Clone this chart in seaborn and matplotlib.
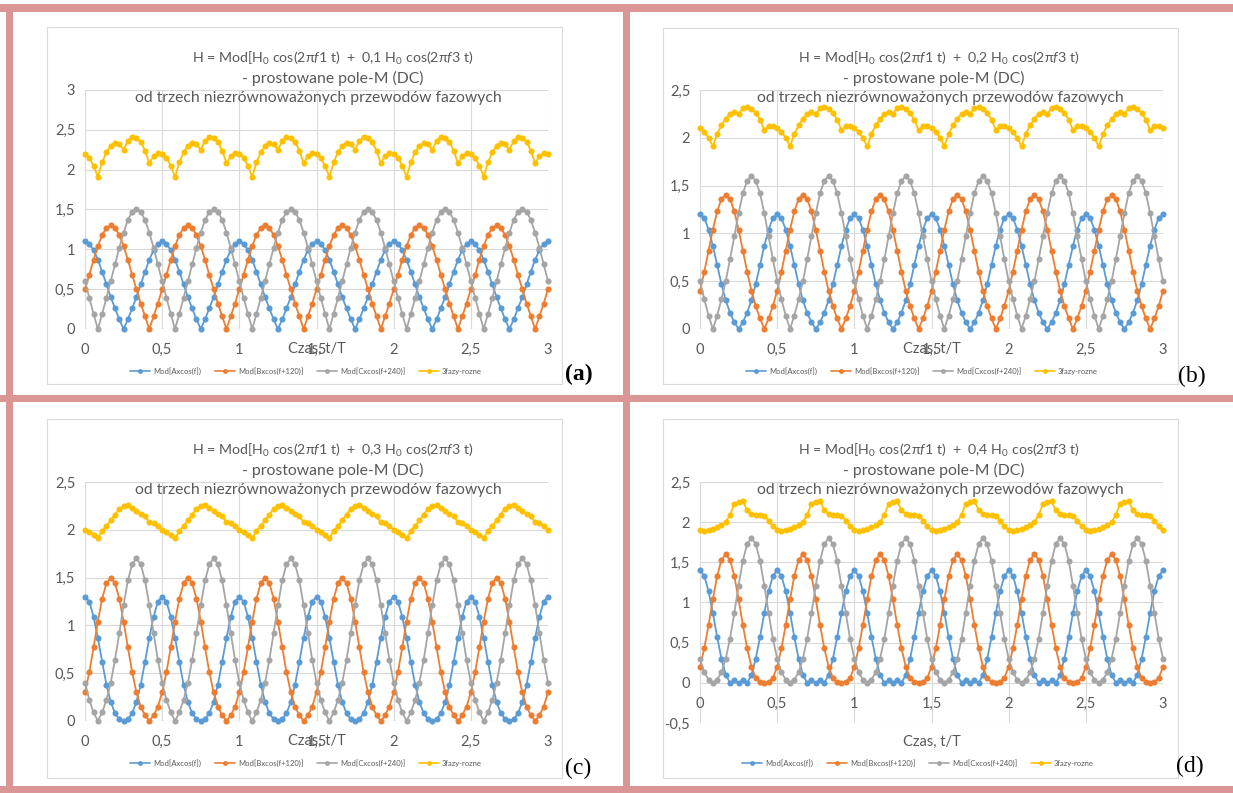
import numpy as np
import pandas as pd
import matplotlib
matplotlib.use("Agg")
import matplotlib.pyplot as plt
from matplotlib.lines import Line2D
from matplotlib.patches import Rectangle
from matplotlib.ticker import FuncFormatter, MultipleLocator
import seaborn as sns

# czas t/T, krok 1/36 (10 stopni)
czas = np.linspace(0, 3, 109)

nazwy = ["Mod[Axcos(f])", "Mod[Bxcos(f+120)]", "Mod[Cxcos(f+240)]", "3fazy-rozne"]
kolory = ["#5B9BD5", "#ED7D31", "#A5A5A5", "#FFC000"]

# (a) 0,1 H0
a_A = [1.1, 1.07, 0.99, 0.87, 0.72, 0.56, 0.4, 0.26, 0.12, 0.0, 0.12, 0.26, 0.4, 0.56, 0.72, 0.87, 0.99, 1.07,
       1.1, 1.07, 0.99, 0.87, 0.72, 0.56, 0.4, 0.26, 0.12, 0.0, 0.12, 0.26, 0.4, 0.56, 0.72, 0.87, 0.99, 1.07,
       1.1, 1.07, 0.99, 0.87, 0.72, 0.56, 0.4, 0.26, 0.12, 0.0, 0.12, 0.26, 0.4, 0.56, 0.72, 0.87, 0.99, 1.07,
       1.1, 1.07, 0.99, 0.87, 0.72, 0.56, 0.4, 0.26, 0.12, 0.0, 0.12, 0.26, 0.4, 0.56, 0.72, 0.87, 0.99, 1.07,
       1.1, 1.07, 0.99, 0.87, 0.72, 0.56, 0.4, 0.26, 0.12, 0.0, 0.12, 0.26, 0.4, 0.56, 0.72, 0.87, 0.99, 1.07,
       1.1, 1.07, 0.99, 0.87, 0.72, 0.56, 0.4, 0.26, 0.12, 0.0, 0.12, 0.26, 0.4, 0.56, 0.72, 0.87, 0.99, 1.07,
       1.1]
a_B = [0.5, 0.68, 0.87, 1.04, 1.18, 1.27, 1.3, 1.27, 1.18, 1.04, 0.87, 0.68, 0.5, 0.32, 0.16, 0.0, 0.16, 0.32,
       0.5, 0.68, 0.87, 1.04, 1.18, 1.27, 1.3, 1.27, 1.18, 1.04, 0.87, 0.68, 0.5, 0.32, 0.16, 0.0, 0.16, 0.32,
       0.5, 0.68, 0.87, 1.04, 1.18, 1.27, 1.3, 1.27, 1.18, 1.04, 0.87, 0.68, 0.5, 0.32, 0.16, 0.0, 0.16, 0.32,
       0.5, 0.68, 0.87, 1.04, 1.18, 1.27, 1.3, 1.27, 1.18, 1.04, 0.87, 0.68, 0.5, 0.32, 0.16, 0.0, 0.16, 0.32,
       0.5, 0.68, 0.87, 1.04, 1.18, 1.27, 1.3, 1.27, 1.18, 1.04, 0.87, 0.68, 0.5, 0.32, 0.16, 0.0, 0.16, 0.32,
       0.5, 0.68, 0.87, 1.04, 1.18, 1.27, 1.3, 1.27, 1.18, 1.04, 0.87, 0.68, 0.5, 0.32, 0.16, 0.0, 0.16, 0.32,
       0.5]
a_C = [0.6, 0.39, 0.19, 0.0, 0.19, 0.39, 0.6, 0.81, 1.02, 1.21, 1.37, 1.47, 1.5, 1.47, 1.37, 1.21, 1.02, 0.81,
       0.6, 0.39, 0.19, 0.0, 0.19, 0.39, 0.6, 0.81, 1.02, 1.21, 1.37, 1.47, 1.5, 1.47, 1.37, 1.21, 1.02, 0.81,
       0.6, 0.39, 0.19, 0.0, 0.19, 0.39, 0.6, 0.81, 1.02, 1.21, 1.37, 1.47, 1.5, 1.47, 1.37, 1.21, 1.02, 0.81,
       0.6, 0.39, 0.19, 0.0, 0.19, 0.39, 0.6, 0.81, 1.02, 1.21, 1.37, 1.47, 1.5, 1.47, 1.37, 1.21, 1.02, 0.81,
       0.6, 0.39, 0.19, 0.0, 0.19, 0.39, 0.6, 0.81, 1.02, 1.21, 1.37, 1.47, 1.5, 1.47, 1.37, 1.21, 1.02, 0.81,
       0.6, 0.39, 0.19, 0.0, 0.19, 0.39, 0.6, 0.81, 1.02, 1.21, 1.37, 1.47, 1.5, 1.47, 1.37, 1.21, 1.02, 0.81,
       0.6]
a_S = [2.2, 2.15, 2.05, 1.91, 2.09, 2.22, 2.3, 2.34, 2.32, 2.25, 2.36, 2.41, 2.4, 2.35, 2.24, 2.08, 2.17, 2.21,
       2.2, 2.15, 2.05, 1.91, 2.09, 2.22, 2.3, 2.34, 2.32, 2.25, 2.36, 2.41, 2.4, 2.35, 2.24, 2.08, 2.17, 2.21,
       2.2, 2.15, 2.05, 1.91, 2.09, 2.22, 2.3, 2.34, 2.32, 2.25, 2.36, 2.41, 2.4, 2.35, 2.24, 2.08, 2.17, 2.21,
       2.2, 2.15, 2.05, 1.91, 2.09, 2.22, 2.3, 2.34, 2.32, 2.25, 2.36, 2.41, 2.4, 2.35, 2.24, 2.08, 2.17, 2.21,
       2.2, 2.15, 2.05, 1.91, 2.09, 2.22, 2.3, 2.34, 2.32, 2.25, 2.36, 2.41, 2.4, 2.35, 2.24, 2.08, 2.17, 2.21,
       2.2, 2.15, 2.05, 1.91, 2.09, 2.22, 2.3, 2.34, 2.32, 2.25, 2.36, 2.41, 2.4, 2.35, 2.24, 2.08, 2.17, 2.21,
       2.2]

# (b) 0,2 H0
b_A = [1.2, 1.16, 1.04, 0.87, 0.67, 0.47, 0.3, 0.17, 0.07, 0.0, 0.07, 0.17, 0.3, 0.47, 0.67, 0.87, 1.04, 1.16,
       1.2, 1.16, 1.04, 0.87, 0.67, 0.47, 0.3, 0.17, 0.07, 0.0, 0.07, 0.17, 0.3, 0.47, 0.67, 0.87, 1.04, 1.16,
       1.2, 1.16, 1.04, 0.87, 0.67, 0.47, 0.3, 0.17, 0.07, 0.0, 0.07, 0.17, 0.3, 0.47, 0.67, 0.87, 1.04, 1.16,
       1.2, 1.16, 1.04, 0.87, 0.67, 0.47, 0.3, 0.17, 0.07, 0.0, 0.07, 0.17, 0.3, 0.47, 0.67, 0.87, 1.04, 1.16,
       1.2, 1.16, 1.04, 0.87, 0.67, 0.47, 0.3, 0.17, 0.07, 0.0, 0.07, 0.17, 0.3, 0.47, 0.67, 0.87, 1.04, 1.16,
       1.2, 1.16, 1.04, 0.87, 0.67, 0.47, 0.3, 0.17, 0.07, 0.0, 0.07, 0.17, 0.3, 0.47, 0.67, 0.87, 1.04, 1.16,
       1.2]
b_B = [0.4, 0.6, 0.82, 1.04, 1.23, 1.36, 1.4, 1.36, 1.23, 1.04, 0.82, 0.6, 0.4, 0.24, 0.11, 0.0, 0.11, 0.24,
       0.4, 0.6, 0.82, 1.04, 1.23, 1.36, 1.4, 1.36, 1.23, 1.04, 0.82, 0.6, 0.4, 0.24, 0.11, 0.0, 0.11, 0.24,
       0.4, 0.6, 0.82, 1.04, 1.23, 1.36, 1.4, 1.36, 1.23, 1.04, 0.82, 0.6, 0.4, 0.24, 0.11, 0.0, 0.11, 0.24,
       0.4, 0.6, 0.82, 1.04, 1.23, 1.36, 1.4, 1.36, 1.23, 1.04, 0.82, 0.6, 0.4, 0.24, 0.11, 0.0, 0.11, 0.24,
       0.4, 0.6, 0.82, 1.04, 1.23, 1.36, 1.4, 1.36, 1.23, 1.04, 0.82, 0.6, 0.4, 0.24, 0.11, 0.0, 0.11, 0.24,
       0.4, 0.6, 0.82, 1.04, 1.23, 1.36, 1.4, 1.36, 1.23, 1.04, 0.82, 0.6, 0.4, 0.24, 0.11, 0.0, 0.11, 0.24,
       0.4]
b_C = [0.5, 0.31, 0.14, 0.0, 0.14, 0.31, 0.5, 0.73, 0.97, 1.21, 1.42, 1.55, 1.6, 1.55, 1.42, 1.21, 0.97, 0.73,
       0.5, 0.31, 0.14, 0.0, 0.14, 0.31, 0.5, 0.73, 0.97, 1.21, 1.42, 1.55, 1.6, 1.55, 1.42, 1.21, 0.97, 0.73,
       0.5, 0.31, 0.14, 0.0, 0.14, 0.31, 0.5, 0.73, 0.97, 1.21, 1.42, 1.55, 1.6, 1.55, 1.42, 1.21, 0.97, 0.73,
       0.5, 0.31, 0.14, 0.0, 0.14, 0.31, 0.5, 0.73, 0.97, 1.21, 1.42, 1.55, 1.6, 1.55, 1.42, 1.21, 0.97, 0.73,
       0.5, 0.31, 0.14, 0.0, 0.14, 0.31, 0.5, 0.73, 0.97, 1.21, 1.42, 1.55, 1.6, 1.55, 1.42, 1.21, 0.97, 0.73,
       0.5, 0.31, 0.14, 0.0, 0.14, 0.31, 0.5, 0.73, 0.97, 1.21, 1.42, 1.55, 1.6, 1.55, 1.42, 1.21, 0.97, 0.73,
       0.5]
b_S = [2.1, 2.06, 2.0, 1.91, 2.04, 2.13, 2.2, 2.25, 2.27, 2.25, 2.31, 2.32, 2.3, 2.26, 2.19, 2.08, 2.12, 2.12,
       2.1, 2.06, 2.0, 1.91, 2.04, 2.13, 2.2, 2.25, 2.27, 2.25, 2.31, 2.32, 2.3, 2.26, 2.19, 2.08, 2.12, 2.12,
       2.1, 2.06, 2.0, 1.91, 2.04, 2.13, 2.2, 2.25, 2.27, 2.25, 2.31, 2.32, 2.3, 2.26, 2.19, 2.08, 2.12, 2.12,
       2.1, 2.06, 2.0, 1.91, 2.04, 2.13, 2.2, 2.25, 2.27, 2.25, 2.31, 2.32, 2.3, 2.26, 2.19, 2.08, 2.12, 2.12,
       2.1, 2.06, 2.0, 1.91, 2.04, 2.13, 2.2, 2.25, 2.27, 2.25, 2.31, 2.32, 2.3, 2.26, 2.19, 2.08, 2.12, 2.12,
       2.1, 2.06, 2.0, 1.91, 2.04, 2.13, 2.2, 2.25, 2.27, 2.25, 2.31, 2.32, 2.3, 2.26, 2.19, 2.08, 2.12, 2.12,
       2.1]

# (c) 0,3 H0
c_A = [1.3, 1.25, 1.09, 0.87, 0.62, 0.38, 0.2, 0.08, 0.02, 0.0, 0.02, 0.08, 0.2, 0.38, 0.62, 0.87, 1.09, 1.25,
       1.3, 1.25, 1.09, 0.87, 0.62, 0.38, 0.2, 0.08, 0.02, 0.0, 0.02, 0.08, 0.2, 0.38, 0.62, 0.87, 1.09, 1.25,
       1.3, 1.25, 1.09, 0.87, 0.62, 0.38, 0.2, 0.08, 0.02, 0.0, 0.02, 0.08, 0.2, 0.38, 0.62, 0.87, 1.09, 1.25,
       1.3, 1.25, 1.09, 0.87, 0.62, 0.38, 0.2, 0.08, 0.02, 0.0, 0.02, 0.08, 0.2, 0.38, 0.62, 0.87, 1.09, 1.25,
       1.3, 1.25, 1.09, 0.87, 0.62, 0.38, 0.2, 0.08, 0.02, 0.0, 0.02, 0.08, 0.2, 0.38, 0.62, 0.87, 1.09, 1.25,
       1.3, 1.25, 1.09, 0.87, 0.62, 0.38, 0.2, 0.08, 0.02, 0.0, 0.02, 0.08, 0.2, 0.38, 0.62, 0.87, 1.09, 1.25,
       1.3]
c_B = [0.3, 0.51, 0.77, 1.04, 1.28, 1.44, 1.5, 1.44, 1.28, 1.04, 0.77, 0.51, 0.3, 0.15, 0.06, 0.0, 0.06, 0.15,
       0.3, 0.51, 0.77, 1.04, 1.28, 1.44, 1.5, 1.44, 1.28, 1.04, 0.77, 0.51, 0.3, 0.15, 0.06, 0.0, 0.06, 0.15,
       0.3, 0.51, 0.77, 1.04, 1.28, 1.44, 1.5, 1.44, 1.28, 1.04, 0.77, 0.51, 0.3, 0.15, 0.06, 0.0, 0.06, 0.15,
       0.3, 0.51, 0.77, 1.04, 1.28, 1.44, 1.5, 1.44, 1.28, 1.04, 0.77, 0.51, 0.3, 0.15, 0.06, 0.0, 0.06, 0.15,
       0.3, 0.51, 0.77, 1.04, 1.28, 1.44, 1.5, 1.44, 1.28, 1.04, 0.77, 0.51, 0.3, 0.15, 0.06, 0.0, 0.06, 0.15,
       0.3, 0.51, 0.77, 1.04, 1.28, 1.44, 1.5, 1.44, 1.28, 1.04, 0.77, 0.51, 0.3, 0.15, 0.06, 0.0, 0.06, 0.15,
       0.3]
c_C = [0.4, 0.22, 0.09, 0.0, 0.09, 0.22, 0.4, 0.64, 0.92, 1.21, 1.47, 1.64, 1.7, 1.64, 1.47, 1.21, 0.92, 0.64,
       0.4, 0.22, 0.09, 0.0, 0.09, 0.22, 0.4, 0.64, 0.92, 1.21, 1.47, 1.64, 1.7, 1.64, 1.47, 1.21, 0.92, 0.64,
       0.4, 0.22, 0.09, 0.0, 0.09, 0.22, 0.4, 0.64, 0.92, 1.21, 1.47, 1.64, 1.7, 1.64, 1.47, 1.21, 0.92, 0.64,
       0.4, 0.22, 0.09, 0.0, 0.09, 0.22, 0.4, 0.64, 0.92, 1.21, 1.47, 1.64, 1.7, 1.64, 1.47, 1.21, 0.92, 0.64,
       0.4, 0.22, 0.09, 0.0, 0.09, 0.22, 0.4, 0.64, 0.92, 1.21, 1.47, 1.64, 1.7, 1.64, 1.47, 1.21, 0.92, 0.64,
       0.4, 0.22, 0.09, 0.0, 0.09, 0.22, 0.4, 0.64, 0.92, 1.21, 1.47, 1.64, 1.7, 1.64, 1.47, 1.21, 0.92, 0.64,
       0.4]
c_S = [2.0, 1.98, 1.95, 1.91, 1.99, 2.04, 2.1, 2.16, 2.22, 2.25, 2.26, 2.23, 2.2, 2.17, 2.14, 2.08, 2.07, 2.04,
       2.0, 1.98, 1.95, 1.91, 1.99, 2.04, 2.1, 2.16, 2.22, 2.25, 2.26, 2.23, 2.2, 2.17, 2.14, 2.08, 2.07, 2.04,
       2.0, 1.98, 1.95, 1.91, 1.99, 2.04, 2.1, 2.16, 2.22, 2.25, 2.26, 2.23, 2.2, 2.17, 2.14, 2.08, 2.07, 2.04,
       2.0, 1.98, 1.95, 1.91, 1.99, 2.04, 2.1, 2.16, 2.22, 2.25, 2.26, 2.23, 2.2, 2.17, 2.14, 2.08, 2.07, 2.04,
       2.0, 1.98, 1.95, 1.91, 1.99, 2.04, 2.1, 2.16, 2.22, 2.25, 2.26, 2.23, 2.2, 2.17, 2.14, 2.08, 2.07, 2.04,
       2.0, 1.98, 1.95, 1.91, 1.99, 2.04, 2.1, 2.16, 2.22, 2.25, 2.26, 2.23, 2.2, 2.17, 2.14, 2.08, 2.07, 2.04,
       2.0]

# (d) 0,4 H0
d_A = [1.4, 1.33, 1.14, 0.87, 0.57, 0.3, 0.1, 0.0, 0.03, 0.0, 0.03, 0.0, 0.1, 0.3, 0.57, 0.87, 1.14, 1.33,
       1.4, 1.33, 1.14, 0.87, 0.57, 0.3, 0.1, 0.0, 0.03, 0.0, 0.03, 0.0, 0.1, 0.3, 0.57, 0.87, 1.14, 1.33,
       1.4, 1.33, 1.14, 0.87, 0.57, 0.3, 0.1, 0.0, 0.03, 0.0, 0.03, 0.0, 0.1, 0.3, 0.57, 0.87, 1.14, 1.33,
       1.4, 1.33, 1.14, 0.87, 0.57, 0.3, 0.1, 0.0, 0.03, 0.0, 0.03, 0.0, 0.1, 0.3, 0.57, 0.87, 1.14, 1.33,
       1.4, 1.33, 1.14, 0.87, 0.57, 0.3, 0.1, 0.0, 0.03, 0.0, 0.03, 0.0, 0.1, 0.3, 0.57, 0.87, 1.14, 1.33,
       1.4, 1.33, 1.14, 0.87, 0.57, 0.3, 0.1, 0.0, 0.03, 0.0, 0.03, 0.0, 0.1, 0.3, 0.57, 0.87, 1.14, 1.33,
       1.4]
d_B = [0.2, 0.43, 0.72, 1.04, 1.33, 1.53, 1.6, 1.53, 1.33, 1.04, 0.72, 0.43, 0.2, 0.06, 0.01, 0.0, 0.01, 0.06,
       0.2, 0.43, 0.72, 1.04, 1.33, 1.53, 1.6, 1.53, 1.33, 1.04, 0.72, 0.43, 0.2, 0.06, 0.01, 0.0, 0.01, 0.06,
       0.2, 0.43, 0.72, 1.04, 1.33, 1.53, 1.6, 1.53, 1.33, 1.04, 0.72, 0.43, 0.2, 0.06, 0.01, 0.0, 0.01, 0.06,
       0.2, 0.43, 0.72, 1.04, 1.33, 1.53, 1.6, 1.53, 1.33, 1.04, 0.72, 0.43, 0.2, 0.06, 0.01, 0.0, 0.01, 0.06,
       0.2, 0.43, 0.72, 1.04, 1.33, 1.53, 1.6, 1.53, 1.33, 1.04, 0.72, 0.43, 0.2, 0.06, 0.01, 0.0, 0.01, 0.06,
       0.2, 0.43, 0.72, 1.04, 1.33, 1.53, 1.6, 1.53, 1.33, 1.04, 0.72, 0.43, 0.2, 0.06, 0.01, 0.0, 0.01, 0.06,
       0.2]
d_C = [0.3, 0.13, 0.04, 0.0, 0.04, 0.13, 0.3, 0.55, 0.87, 1.21, 1.52, 1.73, 1.8, 1.73, 1.52, 1.21, 0.87, 0.55,
       0.3, 0.13, 0.04, 0.0, 0.04, 0.13, 0.3, 0.55, 0.87, 1.21, 1.52, 1.73, 1.8, 1.73, 1.52, 1.21, 0.87, 0.55,
       0.3, 0.13, 0.04, 0.0, 0.04, 0.13, 0.3, 0.55, 0.87, 1.21, 1.52, 1.73, 1.8, 1.73, 1.52, 1.21, 0.87, 0.55,
       0.3, 0.13, 0.04, 0.0, 0.04, 0.13, 0.3, 0.55, 0.87, 1.21, 1.52, 1.73, 1.8, 1.73, 1.52, 1.21, 0.87, 0.55,
       0.3, 0.13, 0.04, 0.0, 0.04, 0.13, 0.3, 0.55, 0.87, 1.21, 1.52, 1.73, 1.8, 1.73, 1.52, 1.21, 0.87, 0.55,
       0.3, 0.13, 0.04, 0.0, 0.04, 0.13, 0.3, 0.55, 0.87, 1.21, 1.52, 1.73, 1.8, 1.73, 1.52, 1.21, 0.87, 0.55,
       0.3]
d_S = [1.9, 1.89, 1.9, 1.91, 1.94, 1.96, 2.0, 2.09, 2.23, 2.25, 2.26, 2.15, 2.1, 2.09, 2.09, 2.08, 2.02, 1.95,
       1.9, 1.89, 1.9, 1.91, 1.94, 1.96, 2.0, 2.09, 2.23, 2.25, 2.26, 2.15, 2.1, 2.09, 2.09, 2.08, 2.02, 1.95,
       1.9, 1.89, 1.9, 1.91, 1.94, 1.96, 2.0, 2.09, 2.23, 2.25, 2.26, 2.15, 2.1, 2.09, 2.09, 2.08, 2.02, 1.95,
       1.9, 1.89, 1.9, 1.91, 1.94, 1.96, 2.0, 2.09, 2.23, 2.25, 2.26, 2.15, 2.1, 2.09, 2.09, 2.08, 2.02, 1.95,
       1.9, 1.89, 1.9, 1.91, 1.94, 1.96, 2.0, 2.09, 2.23, 2.25, 2.26, 2.15, 2.1, 2.09, 2.09, 2.08, 2.02, 1.95,
       1.9, 1.89, 1.9, 1.91, 1.94, 1.96, 2.0, 2.09, 2.23, 2.25, 2.26, 2.15, 2.1, 2.09, 2.09, 2.08, 2.02, 1.95,
       1.9]

wspolczynniki = ["0,1", "0,2", "0,3", "0,4"]
litery = ["(a)", "(b)", "(c)", "(d)"]

sns.set_theme(style="white")
plt.rcParams["font.family"] = ["Lato", "DejaVu Sans"]
plt.rcParams["mathtext.fontset"] = "custom"
plt.rcParams["mathtext.rm"] = "Lato"
plt.rcParams["mathtext.it"] = "Lato:italic"
szary = "#595959"
siatka = "#D9D9D9"
rozowy = "#D99694"

W, H = 1233, 793
fig = plt.figure(figsize=(W / 100, H / 100), dpi=100)
fig.patch.set_facecolor("white")


def px(x0, y0, x1, y1):
    return [x0 / W, 1 - y1 / H, (x1 - x0) / W, (y1 - y0) / H]


def prost(x0, y0, x1, y1, **kw):
    r = Rectangle((x0 / W, 1 - y1 / H), (x1 - x0) / W, (y1 - y0) / H,
                  transform=fig.transFigure, **kw)
    fig.add_artist(r)


# ramki (rozowe)
for r in [(0, 4, W, 12), (6, 4, 13, H), (623, 4, 630, H), (0, 395, W, 402), (0, 786, W, H)]:
    prost(*r, facecolor=rozowy, edgecolor="none", zorder=0)

# uklad paneli w pikselach
panele = [
    dict(dane=(a_A, a_B, a_C, a_S), dy=0, osY=(85, 90, 548, 329), ylim=(0, 3),
         ramka=(47, 27, 562, 384), tyt=(333, 333, 318), leg=(306, 371), lit=(579, 374), bold=True, dol=None),
    dict(dane=(b_A, b_B, b_C, b_S), dy=0, osY=(700, 90, 1163, 329), ylim=(0, 2.5),
         ramka=(663, 28, 1178, 384), tyt=(939, 934, 940), leg=(922, 371), lit=(1192, 376), bold=False, dol=None),
    dict(dane=(c_A, c_B, c_C, c_S), dy=392, osY=(85, 482, 548, 721), ylim=(0, 2.5),
         ramka=(47, 419, 562, 778), tyt=(333, 333, 318), leg=(306, 763), lit=(578, 768), bold=False, dol=None),
    dict(dane=(d_A, d_B, d_C, d_S), dy=392, osY=(700, 482, 1163, 723), ylim=(-0.5, 2.5),
         ramka=(663, 419, 1178, 778), tyt=(939, 934, 940), leg=(918, 763), lit=(1190, 766), bold=False, dol=742),
]

fmt = FuncFormatter(lambda v, p: f"{v:g}".replace(".", ","))

for i, p in enumerate(panele):
    prost(*p["ramka"], facecolor="none", edgecolor=siatka, linewidth=0.8, zorder=1)

    x0, y0, x1, y1 = p["osY"]
    ax = fig.add_axes(px(x0, y0, x1, y1))
    ax.set_facecolor("none")

    df = pd.concat([pd.DataFrame({"t": czas, "H": s, "seria": n})
                    for s, n in zip(p["dane"], nazwy)])
    sns.lineplot(data=df, x="t", y="H", hue="seria", hue_order=nazwy, palette=kolory,
                 marker="o", markersize=4.4, markeredgewidth=0, linewidth=1.3,
                 estimator=None, sort=False, legend=False, ax=ax)
    for ln in ax.lines:
        ln.set_clip_on(False)

    ax.set_xlim(0, 3)
    ax.set_ylim(*p["ylim"])
    ax.xaxis.set_major_locator(MultipleLocator(0.5))
    ax.yaxis.set_major_locator(MultipleLocator(0.5))
    ax.xaxis.set_major_formatter(fmt)
    ax.yaxis.set_major_formatter(fmt)
    ax.grid(True, color=siatka, linewidth=0.8)
    ax.set_axisbelow(True)
    for sp in ax.spines.values():
        sp.set_visible(False)
    if p["ylim"][0] < 0:
        ax.spines["bottom"].set_position(("data", 0))
    ax.tick_params(axis="both", length=0, labelsize=10.5, labelcolor=szary)
    ax.tick_params(axis="x", pad=10)
    ax.tick_params(axis="y", pad=7)

    # opis osi X - w oryginale nachodzi na "1,5"
    ax.set_xlabel("Czas, t/T", fontsize=10.5, color=szary)
    ax.set_ylabel("")
    hpx = y1 - y0
    if p["dol"] is None:
        ax.xaxis.set_label_coords(0.5, -20 / hpx)
    else:
        ax.xaxis.set_label_coords(0.5, -(p["dol"] - y1) / hpx)
    ax.xaxis.label.set_va("center")

    # tytul w trzech liniach
    ty = 58 + p["dy"]
    l1 = (r"H = Mod[H$_0$ cos(2π$\mathit{f1}$ t)  +  " + wspolczynniki[i]
          + r" H$_0$ cos(2π$\mathit{f3}$ t)")
    fig.text(p["tyt"][0] / W, 1 - ty / H, l1, ha="center", va="center", fontsize=10.2, color=szary)
    fig.text(p["tyt"][1] / W, 1 - (ty + 20) / H, "- prostowane pole-M (DC)",
             ha="center", va="center", fontsize=11.3, color=szary)
    fig.text(p["tyt"][2] / W, 1 - (ty + 40) / H, "od trzech niezrównoważonych przewodów fazowych",
             ha="center", va="center", fontsize=11.3, color=szary)

    # legenda
    uchwyty = [Line2D([0], [0], color=k, marker="o", markersize=3.5, markeredgewidth=0, linewidth=1.2)
               for k in kolory]
    lg = fig.legend(uchwyty, nazwy, loc="center", bbox_to_anchor=(p["leg"][0] / W, 1 - p["leg"][1] / H),
                    ncol=4, frameon=False, fontsize=5.5, handlelength=2.6, handletextpad=0.4,
                    columnspacing=1.8, borderpad=0)
    for tx in lg.get_texts():
        tx.set_color(szary)

    fig.text(p["lit"][0] / W, 1 - p["lit"][1] / H, litery[i], ha="center", va="center",
             fontsize=17, family="Liberation Serif", fontweight="bold" if p["bold"] else "normal",
             color="black")

fig.savefig("out.png", dpi=100, facecolor="white")
